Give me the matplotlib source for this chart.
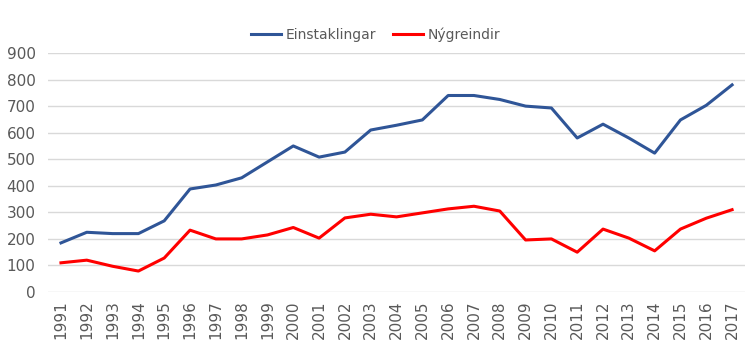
import matplotlib.pyplot as plt

years = [str(y) for y in range(1991, 2018)]
einstaklingar = [185, 225, 220, 220, 268, 388, 403, 430, 490, 550, 508, 527, 610, 628,
                 648, 740, 740, 725, 700, 693, 580, 632, 580, 523, 648, 703, 780]
nygreindir = [110, 120, 97, 79, 128, 233, 200, 200, 215, 243, 203, 279, 293, 283,
              298, 313, 323, 305, 196, 200, 150, 237, 203, 155, 237, 278, 310]

plt.rcParams['font.family'] = ['DejaVu Sans']

fig = plt.figure(figsize=(7.51, 3.51), dpi=100)
ax = fig.add_axes([0.064, 0.168, 0.928, 0.681])

x = range(len(years))
ax.plot(x, einstaklingar, color="#2F5597", linewidth=2.2, label="Einstaklingar")
ax.plot(x, nygreindir, color="#FF0000", linewidth=2.2, label="Nýgreindir")

ax.set_xlim(-0.5, len(years) - 0.5)
ax.set_ylim(0, 900)
ax.set_yticks(range(0, 901, 100))
ax.set_xticks(list(x))
ax.set_xticklabels(years, rotation=90)
ax.tick_params(axis="both", length=0, colors="#595959", labelsize=11)
ax.tick_params(axis="y", pad=9)
ax.tick_params(axis="x", pad=6)
ax.grid(axis="y", color="#D9D9D9", linewidth=1)
ax.set_axisbelow(True)
for s in ax.spines.values():
    s.set_visible(False)

leg = fig.legend(loc="center", bbox_to_anchor=(0.5, 0.9), ncol=2, frameon=False,
                 fontsize=10, handlelength=2.2, handletextpad=0.3, columnspacing=1.2)
for t in leg.get_texts():
    t.set_color("#595959")

fig.savefig("out.png", dpi=100)
